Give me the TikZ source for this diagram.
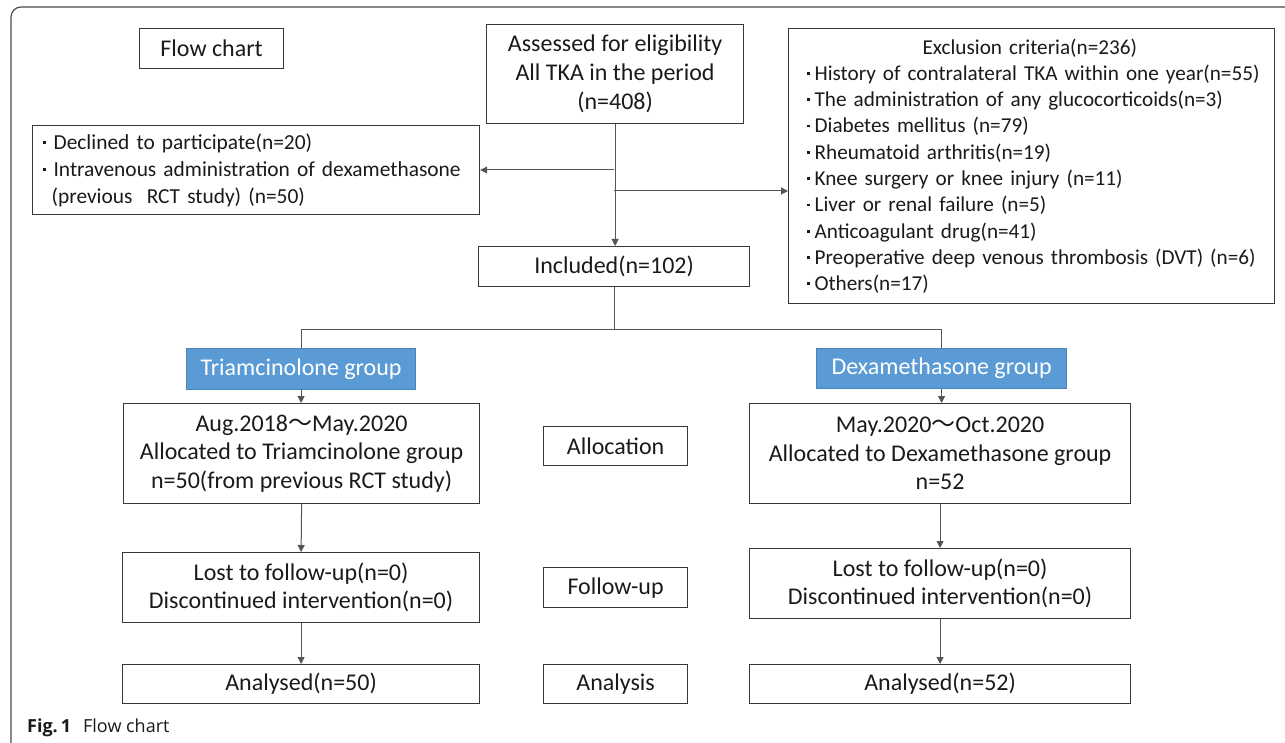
\documentclass[tikz,border=0pt]{standalone}
\usepackage{fontspec}
\setmainfont{Carlito}
\newfontfamily\cjk{Noto Sans CJK JP}
\newfontfamily\capfont{Open Sans}
\usetikzlibrary{arrows.meta}
\definecolor{boxline}{HTML}{383838}
\definecolor{connc}{HTML}{555555}
\definecolor{bluefill}{HTML}{5B9BD5}
\definecolor{blueline}{HTML}{4A84BA}
\definecolor{framec}{HTML}{4A4A4A}
\definecolor{txt}{HTML}{1A1A1A}
\newcommand\bul[1]{\makebox[#1][c]{\raisebox{5.5pt}{\rule{2.8pt}{2.8pt}}}}
\newcommand\wave{{\cjk 〜}}
\begin{document}
\begin{tikzpicture}[x=1pt,y=-1pt,
  box/.style={draw=boxline, line width=1.2pt, inner sep=0pt, anchor=north west, align=center, text=txt, font=\fontsize{24}{28.5}\selectfont},
  listbox/.style={box, align=left, font=\fontsize{21.2}{26.3}\selectfont},
  bluebox/.style={box, fill=bluefill, draw=blueline, text=white},
  conn/.style={draw=connc, line width=1pt},
  arr/.style={conn, -{Triangle[length=7pt,width=7pt]}}
]
\useasboundingbox (0,0) rectangle (1285,743);
\draw[framec, line width=1.2pt, rounded corners=10pt] (11,770) -- (11,7) -- (1310,7);

% top row
\node[box, minimum width=144pt, minimum height=40pt] (flow) at (139,28) {Flow chart};
\node[box, minimum width=257pt, minimum height=99pt, font=\fontsize{24}{29}\selectfont] (assess) at (486,24) {Assessed for eligibility\\All TKA in the period\\(n=408)};
\node[listbox, text width=486pt, minimum height=275pt] (excl) at (788,28) {%
\hspace*{134pt}Exclusion criteria(n=236)\\
\hspace*{14pt}\bul{12pt}History of contralateral TKA within one year(n=55)\\
\hspace*{14pt}\bul{12pt}The administration of any glucocorticoids(n=3)\\
\hspace*{14pt}\bul{12pt}Diabetes mellitus (n=79)\\
\hspace*{14pt}\bul{12pt}Rheumatoid arthritis(n=19)\\
\hspace*{14pt}\bul{12pt}Knee surgery or knee injury (n=11)\\
\hspace*{14pt}\bul{12pt}Liver or renal failure (n=5)\\
\hspace*{14pt}\bul{12pt}Anticoagulant drug(n=41)\\
\hspace*{14pt}\bul{12pt}Preoperative deep venous thrombosis (DVT) (n=6)\\
\hspace*{14pt}\bul{12pt}Others(n=17)};
\node[listbox, text width=447pt, minimum height=89pt, font=\fontsize{21.4}{27}\selectfont] (decl) at (32,125) {%
\hspace*{2pt}\bul{19pt}Declined to participate(n=20)\\
\hspace*{2pt}\bul{19pt}Intravenous administration of dexamethasone\\
\hspace*{19pt}(previous\ \ RCT study) (n=50)};
\node[box, minimum width=271pt, minimum height=40pt] (incl) at (478,246) {Included(n=102)};

% groups
\node[bluebox, minimum width=229pt, minimum height=41pt] (tri) at (186,348) {Triamcinolone group};
\node[bluebox, minimum width=250pt, minimum height=40pt] (dex) at (816,348) {Dexamethasone group};

% left column
\node[box, minimum width=356pt, minimum height=100pt] (allocL) at (123,403) {Aug.2018\wave May.2020\\Allocated to Triamcinolone group\\n=50(from previous RCT study)};
\node[box, minimum width=357pt, minimum height=70pt] (lostL) at (122,552) {Lost to follow-up(n=0)\\Discontinued intervention(n=0)};
\node[box, minimum width=357pt, minimum height=39pt] (anaL) at (122,664) {Analysed(n=50)};

% middle labels
\node[box, minimum width=144pt, minimum height=39pt] (lab1) at (543,426) {Allocation};
\node[box, minimum width=144pt, minimum height=40pt] (lab2) at (543,567) {Follow-up};
\node[box, minimum width=144pt, minimum height=39pt] (lab3) at (543,664) {Analysis};

% right column
\node[box, minimum width=381pt, minimum height=100pt] (allocR) at (749,403) {May.2020\wave Oct.2020\\Allocated to Dexamethasone group\\n=52};
\node[box, minimum width=381pt, minimum height=70pt] (lostR) at (749,548) {Lost to follow-up(n=0)\\Discontinued intervention(n=0)};
\node[box, minimum width=381pt, minimum height=39pt] (anaR) at (749,664) {Analysed(n=52)};

% caption
\node[anchor=base west, inner sep=0pt, text=txt, font=\capfont\fontsize{18}{20}\selectfont] (cap) at (27,732) {\textbf{Fig.\,1}\hspace{12pt}Flow chart};

% connectors
\coordinate (b1) at (614,170);
\coordinate (b2) at (614,191);
\coordinate (split) at (614,329);
\draw[arr] (assess.south) -- (assess.south |- incl.north);
\draw[arr] (b1) -- (decl.east |- b1);
\draw[arr] (b2) -- (excl.west |- b2);
\draw[conn] (incl.south) -- (incl.south |- split);
\draw[conn] (tri.north) -- (tri.north |- split) -- (dex.north |- split) -- (dex.north);
\draw[arr] (tri.south) -- (tri.south |- allocL.north);
\draw[arr] (dex.south) -- (dex.south |- allocR.north);
\draw[arr] (allocL.south) -- (lostL.north);
\draw[arr] (lostL.south) -- (anaL.north);
\draw[arr] (allocR.south) -- (lostR.north);
\draw[arr] (lostR.south) -- (anaR.north);
\end{tikzpicture}
\end{document}
